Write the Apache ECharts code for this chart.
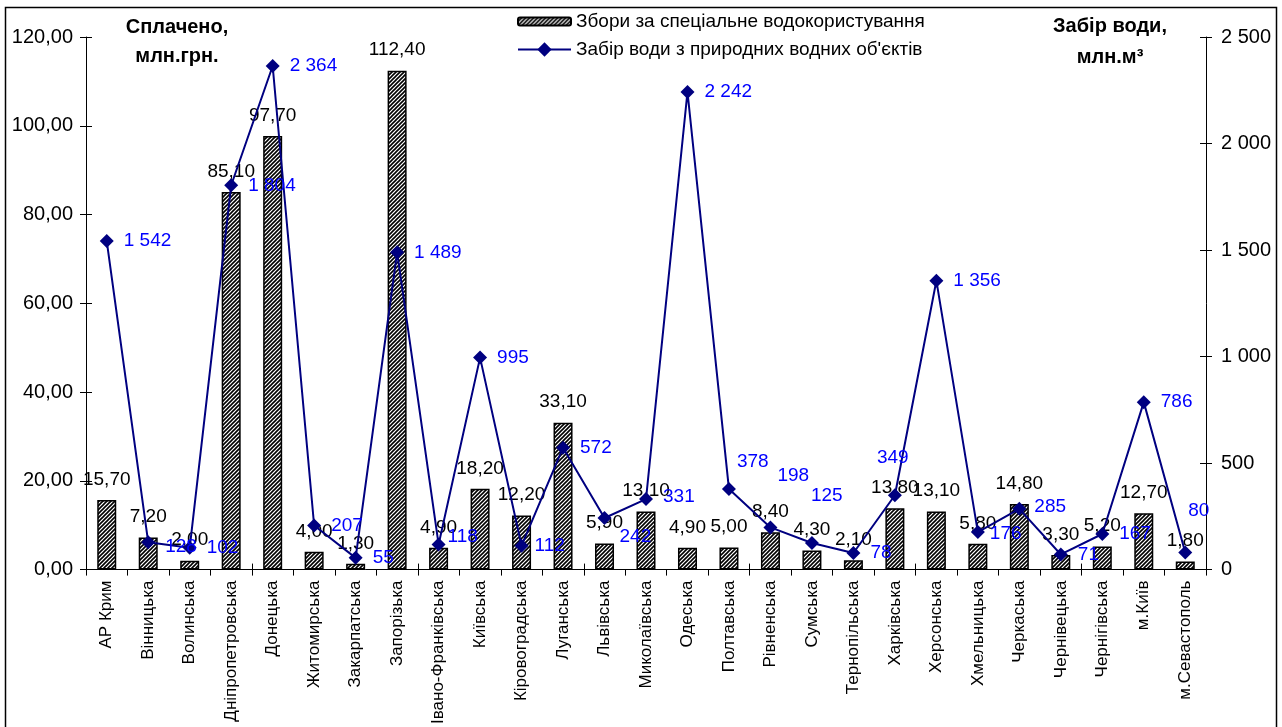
<!DOCTYPE html>
<html><head><meta charset="utf-8">
<script src="https://cdn.jsdelivr.net/npm/echarts@6/dist/echarts.min.js"></script>
<style>html,body{margin:0;padding:0;background:#fff}#c{width:1282px;height:727px}</style>
</head><body><div id="c"></div>
<script>
const categories = ['АР Крим','Вінницька','Волинська','Дніпропетровська','Донецька','Житомирська','Закарпатська','Запорізька','Івано-Франківська','Київська','Кіровоградська','Луганська','Львівська','Миколаївська','Одеська','Полтавська','Рівненська','Сумська','Тернопільська','Харківська','Херсонська','Хмельницька','Черкаська','Чернівецька','Чернігівська','м.Київ','м.Севастополь'];
const feesValues = [15.70,7.20,2.00,85.10,97.70,4.00,1.30,112.40,4.90,18.20,12.20,33.10,5.90,13.10,4.90,5.00,8.40,4.30,2.10,13.80,13.10,5.80,14.80,3.30,5.20,12.70,1.80];
const waterValues = [1542,128,102,1804,2364,207,55,1489,118,995,112,572,242,331,2242,378,198,125,78,349,1356,176,285,71,167,786,80];
const leftTicks = {min:0, max:120, interval:20};
const rightTicks = {min:0, max:2500, interval:500};
const seriesNames = ['Збори за спеціальне водокористування','Забір води з природних водних об\'єктів'];

// label placement tweaks (style only)
const lineLabelOffsets = {1:[0,4],8:[-8,-8],10:[-4,0],12:[-2,19],13:[0,-2],15:[-9,-27],16:[-10,-52],17:[-18,-47],19:[-35,-37],21:[-5,2],22:[-2,-2],26:[-14,-42]};

const FONT = 'Liberation Sans, Arial, sans-serif';
function dec2(v){return Number(v).toFixed(2).replace('.',',');}
function thou(v){return Math.round(v).toString().replace(/\B(?=(\d{3})+(?!\d))/g,' ');}

const pc = document.createElement('canvas');
pc.width = 4; pc.height = 4;
const g = pc.getContext('2d');
g.fillStyle = '#fff'; g.fillRect(0,0,4,4);
g.strokeStyle = '#000'; g.lineWidth = 1.6;
g.beginPath();
g.moveTo(-1,5); g.lineTo(5,-1);
g.moveTo(-1,1); g.lineTo(1,-1);
g.moveTo(3,5); g.lineTo(5,3);
g.stroke();
const hatch = {image: pc, repeat: 'repeat'};

const innerTick = {show:true,inside:true,length:6,lineStyle:{color:'#000'}};

const chart = echarts.init(document.getElementById('c'), null, {renderer:'canvas'});
chart.setOption({
  animation:false,
  backgroundColor:'#fff',
  textStyle:{fontFamily:FONT},
  grid:{left:86,right:76,top:37,bottom:157,containLabel:false},
  legend:[
    {data:[seriesNames[0]],left:517,top:12,padding:0,itemWidth:53,itemHeight:8,
     textStyle:{fontSize:19,color:'#000',fontFamily:FONT}},
    {data:[seriesNames[1]],left:517,top:40,padding:0,itemWidth:53,itemHeight:18,
     textStyle:{fontSize:19,color:'#000',fontFamily:FONT}}
  ],
  graphic:[
    {type:'rect',shape:{x:5.5,y:7.5,width:1271,height:740},style:{fill:'none',stroke:'#000',lineWidth:1.5},silent:true},
    {type:'text',x:177,y:17,style:{text:'Сплачено,',font:'bold 20px '+FONT,textAlign:'center',fill:'#000'}},
    {type:'text',x:177,y:46,style:{text:'млн.грн.',font:'bold 20px '+FONT,textAlign:'center',fill:'#000'}},
    {type:'text',x:1110,y:16,style:{text:'Забір води,',font:'bold 20px '+FONT,textAlign:'center',fill:'#000'}},
    {type:'text',x:1110,y:47,style:{text:'млн.м³',font:'bold 20px '+FONT,textAlign:'center',fill:'#000'}}
  ],
  xAxis:[
    {type:'category',data:categories,
     axisLine:{lineStyle:{color:'#000',width:1}},
     axisTick:{show:true,alignWithLabel:false,length:6,lineStyle:{color:'#000'}},
     axisLabel:{rotate:90,interval:0,fontSize:17,color:'#000',margin:11,fontFamily:FONT}},
    {type:'category',data:categories,position:'bottom',
     axisLine:{show:false},axisTick:innerTick,axisLabel:{show:false},splitLine:{show:false}}
  ],
  yAxis:[
    {type:'value',min:leftTicks.min,max:leftTicks.max,interval:leftTicks.interval,
     axisLine:{show:true,lineStyle:{color:'#000'}},
     axisTick:{show:true,length:6,lineStyle:{color:'#000'}},
     splitLine:{show:false},
     axisLabel:{formatter:dec2,fontSize:20,color:'#000',margin:13,fontFamily:FONT}},
    {type:'value',min:rightTicks.min,max:rightTicks.max,interval:rightTicks.interval,position:'right',
     axisLine:{show:true,lineStyle:{color:'#000'}},
     axisTick:{show:true,length:6,lineStyle:{color:'#000'}},
     splitLine:{show:false},
     axisLabel:{formatter:thou,fontSize:20,color:'#000',margin:15,fontFamily:FONT}},
    {type:'value',min:leftTicks.min,max:leftTicks.max,interval:leftTicks.interval,position:'left',
     axisLine:{show:false},axisTick:innerTick,axisLabel:{show:false},splitLine:{show:false}},
    {type:'value',min:rightTicks.min,max:rightTicks.max,interval:rightTicks.interval,position:'right',
     axisLine:{show:false},axisTick:innerTick,axisLabel:{show:false},splitLine:{show:false}}
  ],
  series:[
    {name:seriesNames[0],type:'bar',yAxisIndex:0,data:feesValues,barWidth:19,
     itemStyle:{color:hatch,borderColor:'#000',borderWidth:1.5},
     label:{show:true,position:'top',distance:11,formatter:p=>dec2(p.value),fontSize:19,color:'#000',fontFamily:FONT},
     z:2},
    {name:seriesNames[1],type:'line',yAxisIndex:1,data:waterValues,
     symbol:'diamond',symbolSize:14,
     lineStyle:{color:'#000080',width:2},
     itemStyle:{color:'#000080'},
     label:{show:true,position:'right',distance:10,formatter:p=>thou(p.value),fontSize:19,color:'#0000FF',fontFamily:FONT},
     labelLayout:function(params){
       const o = lineLabelOffsets[params.dataIndex];
       return o ? {dx:o[0],dy:o[1],hideOverlap:false} : {hideOverlap:false};
     },
     z:5}
  ]
});
</script></body></html>
